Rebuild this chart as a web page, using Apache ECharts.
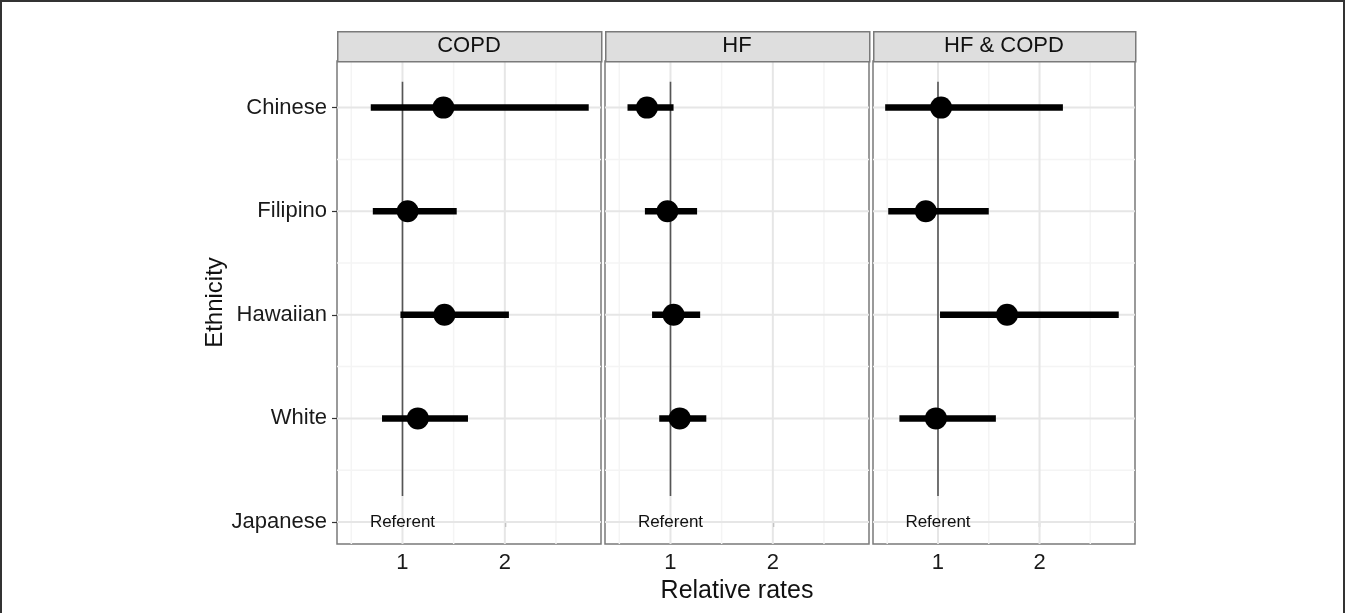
<!DOCTYPE html>
<html>
<head>
<meta charset="utf-8">
<script src="https://cdn.jsdelivr.net/npm/echarts@6/dist/echarts.min.js"></script>
<style>
html,body{margin:0;padding:0;background:#fff;}
#frame{position:absolute;left:0;top:0;width:1341px;height:613px;border:2px solid #333;border-bottom:none;}
#chart{position:absolute;left:0;top:0;width:1345px;height:613px;}
</style>
</head>
<body>
<div id="frame"></div>
<div id="chart"></div>
<script>
// ---------- data ----------
const panels = ['COPD', 'HF', 'HF & COPD'];
const yLabels = ['Japanese', 'White', 'Hawaiian', 'Filipino', 'Chinese']; // y = 0..4
const ethnicities = ['Chinese', 'Filipino', 'Hawaiian', 'White'];
const referentGroup = 'Japanese';
const referentText = 'Referent';
const referentValue = 1;

const copdEst = [1.40, 1.05, 1.41, 1.15];
const copdLo  = [0.69, 0.71, 0.98, 0.80];
const copdHi  = [2.82, 1.53, 2.04, 1.64];

const hfEst = [0.77, 0.97, 1.03, 1.09];
const hfLo  = [0.58, 0.75, 0.82, 0.89];
const hfHi  = [1.03, 1.26, 1.29, 1.35];

const bothEst = [1.03, 0.88, 1.68, 0.98];
const bothLo  = [0.48, 0.51, 1.02, 0.62];
const bothHi  = [2.23, 1.50, 2.78, 1.57];

const xTicks = [1, 2];
const xMinor = [0.5, 1.5, 2.5];
const yMinor = [0.5, 1.5, 2.5, 3.5];

// ---------- build ----------
const FONT = '"Liberation Sans", Arial, sans-serif';
const panelData = [
  {est: copdEst, lo: copdLo, hi: copdHi},
  {est: hfEst, lo: hfLo, hi: hfHi},
  {est: bothEst, lo: bothLo, hi: bothHi}
];
const yOf = name => yLabels.indexOf(name);
const layout = [
  {left: 337, width: 264},
  {left: 605, width: 264},
  {left: 873, width: 262}
];
const TOP = 61, BOTTOM = 69;
const X_MIN = 0.36, X_MAX = 2.94, Y_MIN = -0.2125, Y_MAX = 4.45;

const grids = [], xAxes = [], yAxes = [], series = [], graphics = [];

function vline(color, width) {
  return function (params, api) {
    const cs = params.coordSys;
    const p = api.coord([api.value(0), 0]);
    return {type: 'line', shape: {x1: p[0], y1: cs.y, x2: p[0], y2: cs.y + cs.height},
      style: {stroke: color, lineWidth: width}, silent: true};
  };
}
function hline(color, width) {
  return function (params, api) {
    const cs = params.coordSys;
    const p = api.coord([1, api.value(1)]);
    return {type: 'line', shape: {x1: cs.x, y1: p[1], x2: cs.x + cs.width, y2: p[1]},
      style: {stroke: color, lineWidth: width}, silent: true};
  };
}

panels.forEach((name, i) => {
  const L = layout[i];
  grids.push({left: L.left, width: L.width, top: TOP, bottom: BOTTOM, show: true,
    borderColor: '#7a7a7a', borderWidth: 1.5, backgroundColor: 'transparent'});
  xAxes.push({
    type: 'value', gridIndex: i, min: X_MIN, max: X_MAX,
    axisLine: {show: false}, splitLine: {show: false},
    axisTick: {show: true, customValues: xTicks, length: 5, lineStyle: {color: '#333', width: 1.2}},
    axisLabel: {customValues: xTicks, fontSize: 22, color: '#1a1a1a', fontFamily: FONT, margin: 8},
    name: i === 1 ? 'Relative rates' : '', nameLocation: 'middle', nameGap: 29,
    nameTextStyle: {fontSize: 25, color: '#111', fontFamily: FONT}
  });
  yAxes.push({
    type: 'value', gridIndex: i, min: Y_MIN, max: Y_MAX,
    axisLine: {show: false}, splitLine: {show: false},
    axisTick: {show: i === 0, customValues: [0, 1, 2, 3, 4], length: 5, lineStyle: {color: '#333', width: 1.2}},
    axisLabel: {show: i === 0, customValues: [0, 1, 2, 3, 4], fontSize: 22, color: '#1a1a1a', fontFamily: FONT,
      margin: 10, formatter: v => yLabels[Math.round(v)]},
    name: i === 0 ? 'Ethnicity' : '', nameLocation: 'middle', nameGap: 108, nameRotate: 90,
    nameTextStyle: {fontSize: 24, color: '#111', fontFamily: FONT}
  });

  // grid lines
  series.push({type: 'custom', xAxisIndex: i, yAxisIndex: i, z: 1, silent: true,
    renderItem: vline('#f4f4f4', 1.5), data: xMinor.map(v => [v, 0])});
  series.push({type: 'custom', xAxisIndex: i, yAxisIndex: i, z: 1, silent: true,
    renderItem: hline('#f4f4f4', 1.5), data: yMinor.map(v => [1, v])});
  series.push({type: 'custom', xAxisIndex: i, yAxisIndex: i, z: 2, silent: true,
    renderItem: vline('#e6e6e6', 2), data: xTicks.map(v => [v, 0])});
  series.push({type: 'custom', xAxisIndex: i, yAxisIndex: i, z: 2, silent: true,
    renderItem: hline('#e6e6e6', 2), data: yLabels.map((_, k) => [1, k])});

  // reference vertical segment
  series.push({type: 'custom', xAxisIndex: i, yAxisIndex: i, z: 3, silent: true,
    renderItem: function (params, api) {
      const a = api.coord([api.value(0), api.value(1)]);
      const b = api.coord([api.value(0), api.value(2)]);
      return {type: 'line', shape: {x1: a[0], y1: a[1], x2: b[0], y2: b[1]},
        style: {stroke: '#555', lineWidth: 1.6}};
    },
    data: [[referentValue, 0.25, 4.25]]});

  // error bars
  const d = panelData[i];
  series.push({type: 'custom', xAxisIndex: i, yAxisIndex: i, z: 4, silent: true,
    encode: {x: [0, 2], y: 1},
    renderItem: function (params, api) {
      const y = api.value(1);
      const a = api.coord([api.value(0), y]);
      const b = api.coord([api.value(2), y]);
      return {type: 'line', shape: {x1: a[0], y1: a[1], x2: b[0], y2: b[1]},
        style: {stroke: '#000', lineWidth: 6.5}};
    },
    data: ethnicities.map((e, k) => [d.lo[k], yOf(e), d.hi[k]])});

  // points
  series.push({type: 'scatter', xAxisIndex: i, yAxisIndex: i, z: 5, silent: true,
    symbol: 'circle', symbolSize: 22, itemStyle: {color: '#000', opacity: 1},
    emphasis: {disabled: true},
    data: ethnicities.map((e, k) => [d.est[k], yOf(e)])});

  // referent label
  series.push({type: 'scatter', xAxisIndex: i, yAxisIndex: i, z: 5, silent: true,
    symbolSize: 0, itemStyle: {opacity: 1}, emphasis: {disabled: true},
    label: {show: true, position: 'inside', formatter: referentText, fontSize: 17,
      color: '#111', opacity: 1, fontFamily: FONT},
    data: [[referentValue, yOf(referentGroup)]]});

  // strip
  graphics.push({type: 'rect', left: L.left, top: 31, z: 10,
    shape: {width: L.width, height: 30},
    style: {fill: '#dedede', stroke: '#7a7a7a', lineWidth: 1.5}});
  graphics.push({type: 'text', x: L.left + L.width / 2, y: 46, z: 11,
    style: {text: name, fontSize: 22, fill: '#111', fontFamily: FONT,
      align: 'center', verticalAlign: 'middle'}});
});

const chart = echarts.init(document.getElementById('chart'), null, {renderer: 'canvas'});
chart.setOption({
  backgroundColor: 'transparent',
  animation: false,
  grid: grids, xAxis: xAxes, yAxis: yAxes, series: series, graphic: graphics
});
</script>
</body>
</html>
